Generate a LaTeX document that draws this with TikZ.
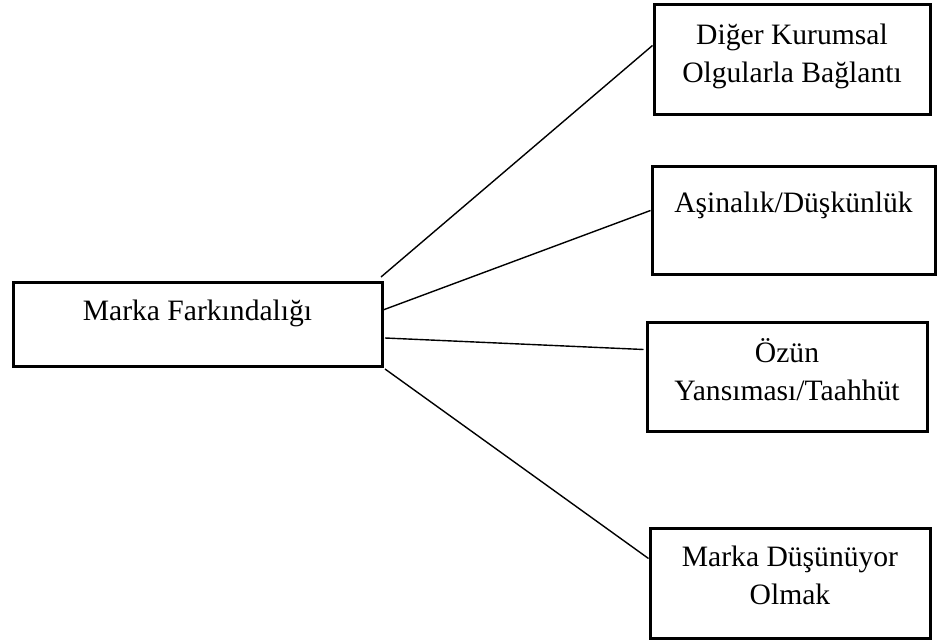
\documentclass[tikz,border=0pt]{standalone}
\usepackage{fontspec}
\setmainfont{Liberation Serif}
\tikzset{
	kutu/.style={draw, line width=1.5pt, align=center, inner sep=0pt, font=\fontsize{14.8}{19}\selectfont},
	bag/.style={line width=0.7pt}
}
\begin{document}
\begin{tikzpicture}[x=0.5pt, y=-0.5pt]
		\useasboundingbox (0,0) rectangle (948,641);
		\node (Mf) at (197.5,325) [kutu, minimum width=184.5pt, minimum height=42pt, text depth=15pt] {Marka Farkındalığı};
		\node (Dk) at (792,60) [kutu, minimum width=138pt, minimum height=55pt, text depth=7pt] {Diğer Kurumsal\\Olgularla Bağlantı};
		\node (Ad) at (793.5,221) [kutu, minimum width=141.5pt, minimum height=54pt, text depth=18.5pt] {Aşinalık/Düşkünlük};
		\node (Oy) at (787,377.5) [kutu, minimum width=140pt, minimum height=54.5pt, text depth=8pt] {Özün\\Yansıması/Taahhüt};
		\node (Md) at (790,583.5) [kutu, minimum width=140pt, minimum height=54.5pt, text depth=8pt] {Marka Düşünüyor\\Olmak};
		\coordinate (s1) at (381,277);
		\coordinate (s2) at (383,310);
		\coordinate (s3) at (385,338);
		\coordinate (s4) at (385,369);
		\draw[bag] (s1) -- ([yshift=-21pt]Dk.north west);
		\draw[bag] (s2) -- ([yshift=-22.5pt]Ad.north west);
		\draw[bag] (s3) -- ([yshift=-14pt,xshift=-1pt]Oy.north west);
		\draw[bag] (s4) -- ([yshift=-15.5pt]Md.north west);
	\end{tikzpicture}
\end{document}
